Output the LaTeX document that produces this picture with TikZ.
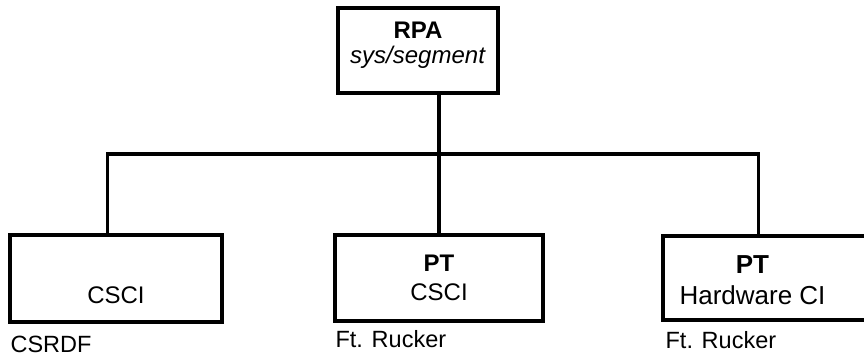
\documentclass[tikz,border=0pt]{standalone}
\usepackage{fontspec}
\setmainfont{Liberation Sans}
\usetikzlibrary{calc}

\begin{document}
\begin{tikzpicture}[x=1pt,y=-1pt,
    unit/.style={draw,line width=3.2pt,inner sep=0pt,align=center,
      font=\fontsize{24}{29}\selectfont},
    site/.style={inner sep=0pt,font=\fontsize{23.5}{27}\selectfont},
    link/.style={line width=3.2pt}]
  \path[use as bounding box,clip] (0,0) rectangle (864,360);
  % top of the tree
  \node[unit,minimum width=160pt,minimum height=85pt,text depth=15pt,
    font=\fontsize{24}{25}\selectfont] (rpa) at (418,50.5)
    {\textbf{RPA}\\\textit{sys/segment}};
  % the three units below
  \node[unit,minimum width=212pt,minimum height=87pt] (csci) at (116,278.5)
    {\strut\\CSCI};
  \node[unit,minimum width=208pt,minimum height=86pt] (mid) at (439,278)
    {\textbf{PT}\\CSCI};
  \node[unit,minimum width=213pt,minimum height=84pt] (hw) at (769.5,278) {};
  \node[unit,draw=none,font=\fontsize{26}{31}\selectfont] (hwtext)
    at ($(hw.center)+(-17,2)$) {\textbf{PT}\\Hardware CI};
  % connectors
  \coordinate (bus) at (0,154);
  \coordinate (csctap) at ($(csci.north west)!0.46!(csci.north east)$);
  \coordinate (hwtap) at ($(hw.north west)!0.45!(hw.north east)$);
  \draw[link] (rpa.south -| mid.north) -- (mid.north);
  \draw[link] (csctap) |- (bus -| hwtap) -- (hwtap);
  % sites
  \node[site,anchor=west] (csrdf) at ($(csci.south west)+(2,21)$) {CSRDF};
  \node[site,anchor=west] (rucker1) at ($(mid.south west)+(2,16)$) {Ft. Rucker};
  \node[site,anchor=west] (rucker2) at ($(hw.south west)+(4,18)$) {Ft. Rucker};
\end{tikzpicture}
\end{document}
